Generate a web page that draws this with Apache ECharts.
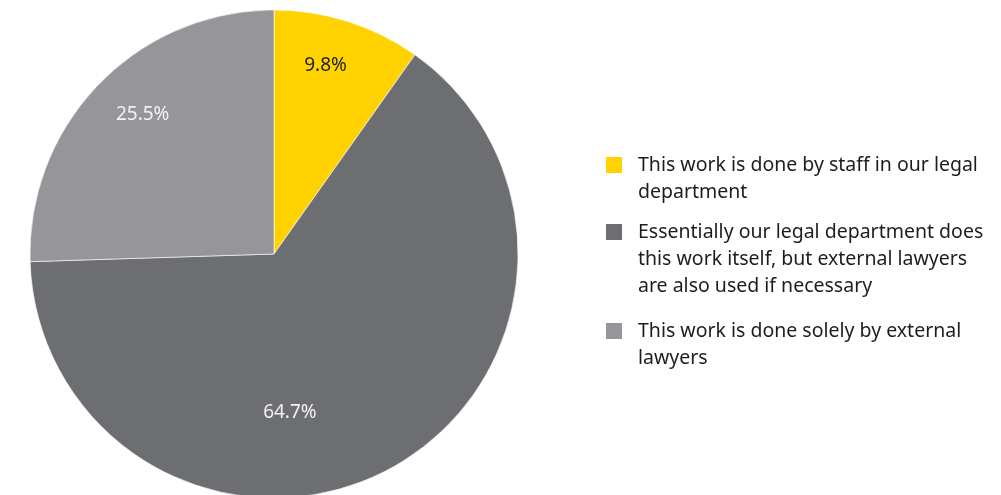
<!DOCTYPE html>
<html>
<head>
<meta charset="utf-8">
<script src="https://cdn.jsdelivr.net/npm/echarts@6/dist/echarts.min.js"></script>
<style>
  html, body { margin: 0; padding: 0; background: #ffffff; }
  #chart { width: 1001px; height: 495px; }
</style>
</head>
<body>
<div id="chart"></div>
<script>
// Who handles the legal work: share of respondents (%)
const categories = [
  'This work is done by staff in our legal\ndepartment',
  'Essentially our legal department does\nthis work itself, but external lawyers\nare also used if necessary',
  'This work is done solely by external\nlawyers'
];
const shares = [9.8, 64.7, 25.5];
const sliceColors = ['#FFD200', '#6D6E71', '#96969A'];
const labelColors = ['#1f1f1f', '#f2f2f2', '#f2f2f2'];

// Where each percentage sits: [angle clockwise from 12 o'clock in degrees, fraction of radius]
const labelSpots = [[15.3, 0.80], [174.3, 0.655], [316.7, 0.785]];

const CX = 274, CY = 254, R = 244;
const FONT = '"Noto Sans", sans-serif';
const LINE_H = 27;
const ICON = 18;

const chart = echarts.init(document.getElementById('chart'), null, { renderer: 'canvas' });

// One legend block per entry. Legend text is centred on its swatch, so blank
// lines are put in front of each entry to bring its first line level with the swatch.
const swatchTops = [156, 223, 322];
const legends = categories.map((name, i) => {
  const lines = name.split('\n').length;
  const blockLines = 2 * lines - 1;
  return {
    show: true,
    orient: 'vertical',
    left: 604,
    top: swatchTops[i] + ICON / 2 - blockLines * LINE_H / 2,
    padding: 0,
    itemWidth: ICON,
    itemHeight: ICON,
    icon: 'rect',
    selectedMode: false,
    data: [{ name: name, itemStyle: { color: sliceColors[i] } }],
    formatter: n => '\n'.repeat(lines - 1) + n,
    textStyle: {
      fontFamily: FONT,
      fontSize: 19.5,
      lineHeight: LINE_H,
      color: '#1d1d1d',
      padding: [0, 0, 0, 10]
    }
  };
});

chart.setOption({
  animation: false,
  backgroundColor: '#ffffff',
  legend: legends,
  series: [{
    type: 'pie',
    center: [CX, CY],
    radius: [0, R],
    startAngle: 90,
    clockwise: true,
    avoidLabelOverlap: false,
    emphasis: { disabled: true },
    itemStyle: { borderColor: '#ffffff', borderWidth: 0.6 },
    label: {
      show: true,
      position: 'inside',
      formatter: p => p.value.toFixed(1) + '%',
      fontFamily: FONT,
      fontSize: 19,
      align: 'center',
      verticalAlign: 'middle'
    },
    labelLine: { show: false },
    labelLayout: params => {
      const spot = labelSpots[params.dataIndex];
      const a = spot[0] * Math.PI / 180;
      return {
        x: CX + Math.sin(a) * R * spot[1],
        y: CY - Math.cos(a) * R * spot[1],
        align: 'center',
        verticalAlign: 'middle'
      };
    },
    data: categories.map((name, i) => ({
      name: name,
      value: shares[i],
      itemStyle: { color: sliceColors[i] },
      label: { color: labelColors[i] }
    }))
  }]
});
</script>
</body>
</html>
